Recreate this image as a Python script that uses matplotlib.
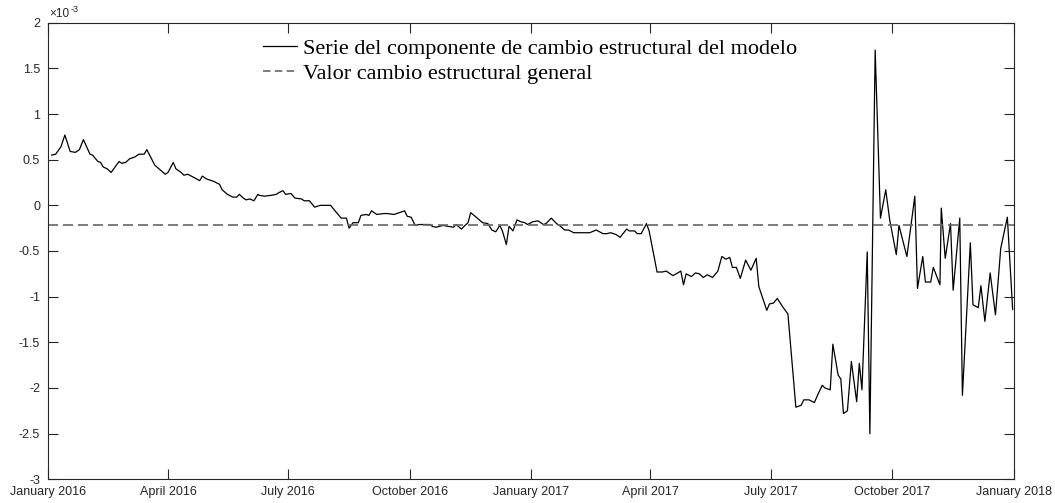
import datetime as dt

import matplotlib
matplotlib.use("Agg")
import matplotlib.pyplot as plt
import matplotlib.dates as mdates
from matplotlib.ticker import FuncFormatter, MultipleLocator

plt.rcParams['font.family'] = ['Liberation Sans', 'DejaVu Sans']

# days since 1 January 2016, and component values (x 1e-3)
start = dt.date(2016, 1, 1)
days = [3, 6.8, 10.6, 13, 17.4, 21, 24.4, 27, 32, 34.5, 38.3, 40, 42.6, 45.9, 48.4,
        54, 56.5, 59.7, 62.3, 66, 69.8, 73, 75.6, 81, 85, 89.3, 91.8, 95, 97.6,
        101.4, 103.9, 106.4, 110, 115, 117.3, 120.3, 126.6,
        130.4, 132.9, 136.7, 140.5, 143, 145, 148, 150.6, 153, 156.4, 159, 160.7,
        164.5, 169.5, 173.3, 175.8, 178.3, 180.9, 184.6, 187.1, 192.2, 194.7,
        198.5, 202.3, 206, 209.8, 214.4, 218.7, 222.5, 226.3, 228.8, 231.3, 235,
        237.6, 241.4, 243.4, 245.2,
        249, 254, 257.7, 262.8, 266.6, 270.4, 272.4, 275.4, 278, 281.7, 289.3,
        291.8, 294.4, 299.4, 303.1, 307, 309.5, 313.3, 315.8, 318.3, 320.9,
        325.9, 329.7, 333.4, 336.5, 339.2, 342.3, 344, 347.3, 349.4, 352.3,
        355.4, 358.7, 361.2, 363.7,
        367.5, 371.2, 375, 377.6, 381.4, 385.2, 388.4, 391.5, 394.7, 398.5, 404,
        410.3, 415.4, 420.4, 423.7, 426.8, 430.6, 433.8, 438.1, 440.6, 444.4,
        446.9, 449.9, 453.3, 455.8, 461.6, 465.8, 468.4, 473.4, 479.2, 481.3,
        483.5,
        487.3, 490.6, 493.6, 496.6, 499.9, 503.7, 507.5, 510.5, 513.8, 516.3,
        518.4, 521.8, 524.6, 528.2, 532, 536.5, 538.5, 544.1, 546.6, 549.1,
        552.4, 556.6, 560, 566.3, 570, 572.5, 576.3, 580.1, 583.9, 586.2, 588.7,
        592, 594.5, 598.3, 600.3, 602.6, 605.8, 608.4, 612.2, 614.3, 616, 620.3,
        622.3, 626.3, 630.4, 634.1, 637.9, 642.1, 644.4, 650, 656, 658.3, 662.1,
        664.3, 668.3, 670.1, 675.1, 676.9, 679.5, 683.3, 685.2, 690.3, 692.3,
        698.3, 700.3, 704.1, 706.1, 709.9, 713.4, 717.2, 721.1, 726.4, 730.6]
values = [0.55, 0.56, 0.64, 0.77, 0.59, 0.58, 0.61, 0.72, 0.56, 0.55, 0.48, 0.47, 0.42, 0.40, 0.36,
          0.48, 0.46, 0.47, 0.51, 0.53, 0.56, 0.56, 0.61, 0.44, 0.39, 0.34, 0.36, 0.47, 0.40,
          0.36, 0.33, 0.34, 0.31, 0.27, 0.32, 0.29, 0.26,
          0.23, 0.17, 0.12, 0.09, 0.09, 0.12, 0.08, 0.06, 0.07, 0.05, 0.12, 0.11,
          0.10, 0.11, 0.12, 0.14, 0.16, 0.12, 0.13, 0.08, 0.07, 0.05,
          0.05, -0.02, 0.00, 0.00, 0.00, -0.07, -0.14, -0.14, -0.25, -0.19, -0.19,
          -0.11, -0.10, -0.11, -0.06,
          -0.10, -0.09, -0.09, -0.10, -0.08, -0.06, -0.12, -0.13, -0.22, -0.21, -0.21,
          -0.23, -0.24, -0.22, -0.23, -0.24, -0.21, -0.26, -0.23, -0.19, -0.08,
          -0.14, -0.19, -0.20, -0.27, -0.29, -0.22, -0.28, -0.43, -0.23, -0.28,
          -0.16, -0.18, -0.19, -0.21,
          -0.18, -0.17, -0.21, -0.20, -0.14, -0.20, -0.23, -0.27, -0.27, -0.30, -0.30,
          -0.30, -0.27, -0.31, -0.31, -0.30, -0.32, -0.35, -0.26, -0.28, -0.28,
          -0.31, -0.31, -0.20, -0.28, -0.73, -0.73, -0.72, -0.77, -0.72, -0.87,
          -0.75,
          -0.78, -0.74, -0.75, -0.79, -0.76, -0.79, -0.72, -0.56, -0.59, -0.57,
          -0.68, -0.68, -0.80, -0.60, -0.71, -0.58, -0.89, -1.15, -1.08, -1.07,
          -1.02, -1.11, -1.19, -2.21, -2.19, -2.13, -2.13, -2.16, -2.06, -1.97, -2.00,
          -2.02, -1.52, -1.86, -1.90, -2.28, -2.25, -1.71, -2.15, -1.73, -2.02, -0.51,
          -2.50, 1.70, -0.14, 0.17, -0.16, -0.54, -0.22, -0.56, 0.10, -0.91, -0.56,
          -0.84, -0.84, -0.68, -0.87, -0.03, -0.58, -0.20, -0.93, -0.14, -2.08,
          -0.41, -1.09, -1.12, -0.88, -1.27, -0.74, -1.20, -0.47, -0.13, -1.14]
general_value = -0.215

labels = ['Serie del componente de cambio estructural del modelo',
          'Valor cambio estructural general']

dates = [start + dt.timedelta(days=d) for d in days]
scale = 1e-3

fig = plt.figure(figsize=(10.55, 5.03), dpi=100)
ax = fig.add_axes([0.0452, 0.0471, 0.9159, 0.9078])

axcol = '#262626'
ax.plot(dates, [v * scale for v in values], color='black', lw=0.9, label=labels[0])
ax.axhline(general_value * scale, color='#666666', lw=1.2, dashes=(6, 3), label=labels[1])

ax.set_xlim(dt.date(2016, 1, 1), dt.date(2018, 1, 1))
ax.set_ylim(-3e-3, 2e-3)
ax.xaxis.set_major_locator(mdates.MonthLocator(bymonth=[1, 4, 7, 10]))
ax.xaxis.set_major_formatter(mdates.DateFormatter('%B %Y'))
ax.yaxis.set_major_locator(MultipleLocator(0.5e-3))
ax.yaxis.set_major_formatter(FuncFormatter(lambda v, p: '%g' % round(v / scale, 3)))

ax.tick_params(direction='in', length=7.2, width=0.8, colors=axcol, labelsize=9,
               top=True, right=True)
ax.tick_params(axis='y', pad=5.5)
ax.tick_params(axis='x', pad=5)
for s in ax.spines.values():
    s.set_color(axcol)
    s.set_linewidth(0.8)

# exponent label, MATLAB style with a plain hyphen
ax.annotate('\u00d710', xy=(0, 1), xycoords='axes fraction', xytext=(1, 2),
            textcoords='offset points', fontsize=8.5, color=axcol, ha='left', va='bottom')
ax.annotate('-3', xy=(0, 1), xycoords='axes fraction', xytext=(16.5, 6),
            textcoords='offset points', fontsize=6.5, color=axcol, ha='left', va='bottom')

leg = ax.legend(loc='upper left', bbox_to_anchor=(0.2228, 0.965), frameon=False,
                prop={'family': 'Liberation Serif', 'size': 16}, borderpad=0,
                borderaxespad=0, handlelength=1.53, handletextpad=0.27, labelspacing=0.2)
leg.get_lines()[1].set_dashes((4.5, 2.6))

fig.savefig('out.png', dpi=100)
